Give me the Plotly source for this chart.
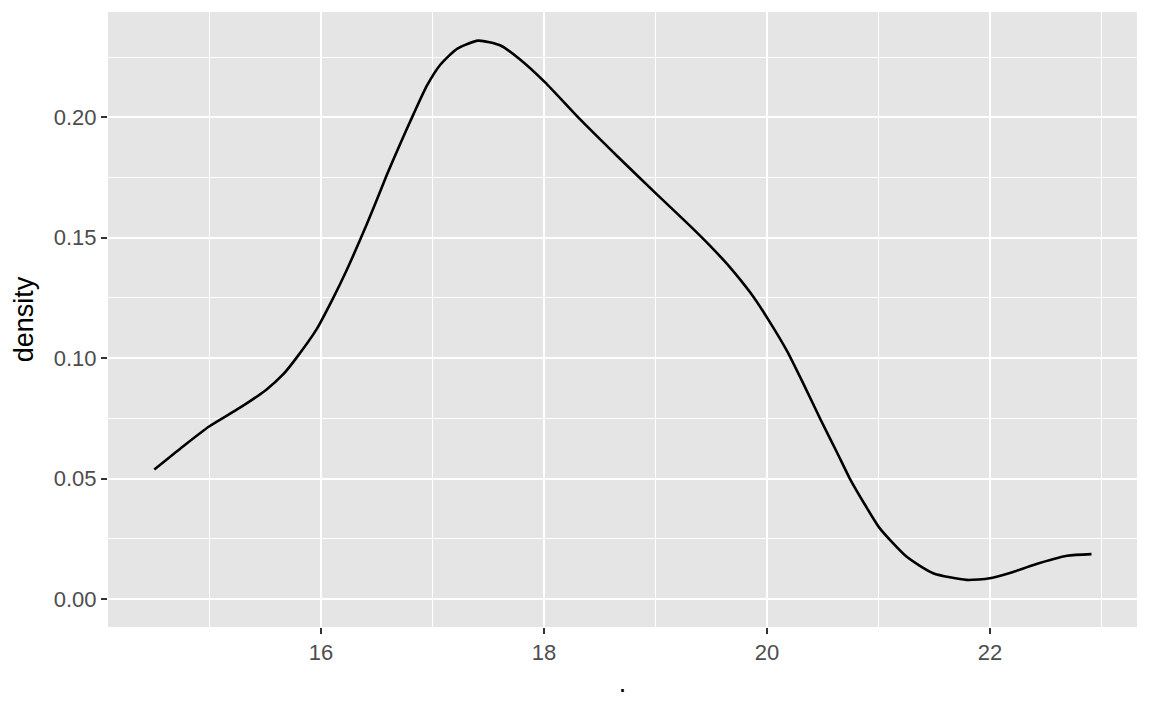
import plotly.graph_objects as go

# density curve values
x_vals = [14.505, 14.765, 15.0, 15.27, 15.51, 15.66, 15.78, 15.96, 16.11, 16.23,
          16.35, 16.47, 16.59, 16.71, 16.83, 16.95, 17.07, 17.22, 17.41, 17.61,
          17.78, 18.01, 18.32, 18.66, 19.01, 19.31, 19.49, 19.67, 19.85, 20.01,
          20.18, 20.33, 20.48, 20.63, 20.74, 20.88, 21.01, 21.25, 21.49, 21.79,
          22.0, 22.2, 22.39, 22.69, 22.91]
y_vals = [0.0537, 0.0634, 0.0717, 0.0793, 0.0869, 0.0932, 0.1001, 0.1119, 0.125, 0.1365,
          0.1490, 0.1622, 0.1760, 0.1889, 0.2013, 0.2131, 0.2218, 0.2284, 0.2318, 0.2298,
          0.2242, 0.2145, 0.1993, 0.1837, 0.1681, 0.1549, 0.1466, 0.1376, 0.1272, 0.1161,
          0.1029, 0.0890, 0.0745, 0.0606, 0.0502, 0.0390, 0.0294, 0.0176, 0.0107, 0.0079,
          0.0086, 0.0111, 0.0141, 0.0179, 0.0186]

x_ticks = [16, 18, 20, 22]
x_minor = [15, 17, 19, 21, 23]
y_ticks = [0.00, 0.05, 0.10, 0.15, 0.20]
y_minor = [0.025, 0.075, 0.125, 0.175, 0.225]
y_tick_labels = ["0.00", "0.05", "0.10", "0.15", "0.20"]

fig = go.Figure()
fig.add_trace(go.Scatter(x=x_vals, y=y_vals, mode="lines",
                         line=dict(color="black", width=2.6, shape="spline", smoothing=0.6),
                         hoverinfo="skip", showlegend=False))

font_family = "Liberation Sans, Arial, sans-serif"
fig.update_layout(
    width=1144, height=703,
    paper_bgcolor="white", plot_bgcolor="#E5E5E5",
    margin=dict(l=100, r=15, t=4, b=84, autoexpand=False),
    font=dict(family=font_family, color="#4D4D4D", size=22),
    xaxis=dict(range=[14.09, 23.318], tickvals=x_ticks, ticktext=[str(v) for v in x_ticks],
               showgrid=True, gridcolor="white", gridwidth=2.2,
               minor=dict(tickvals=x_minor, showgrid=True, gridcolor="white", gridwidth=1.1, ticks=""),
               ticks="outside", ticklen=6, tickwidth=2.2, tickcolor="#333333",
               zeroline=False, showline=False,
               tickfont=dict(size=22, color="#4D4D4D"),
               title=dict(text=".", font=dict(size=27, color="black"), standoff=8)),
    yaxis=dict(range=[-0.01165, 0.2437], tickvals=y_ticks, ticktext=y_tick_labels,
               showgrid=True, gridcolor="white", gridwidth=2.2,
               minor=dict(tickvals=y_minor, showgrid=True, gridcolor="white", gridwidth=1.1, ticks=""),
               ticks="outside", ticklen=6, tickwidth=2.2, tickcolor="#333333",
               zeroline=False, showline=False,
               tickfont=dict(size=22, color="#4D4D4D"),
               title=dict(text="density", font=dict(size=27, color="black"), standoff=12)),
)

fig.write_html("out.html")
